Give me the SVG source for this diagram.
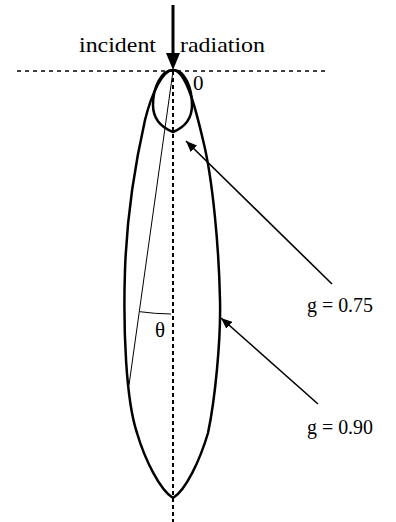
<svg xmlns="http://www.w3.org/2000/svg" width="396" height="522" viewBox="0 0 396 522">
<style>
text{font-family:"Liberation Serif","Times New Roman",serif;font-size:21px;fill:#000}
.loop{fill:none;stroke:#000;stroke-width:2.5}
.dot{fill:none;stroke:#000}
.ptr{stroke:#000;stroke-width:1.6;fill:none}
</style>
<defs>
<marker id="ah" viewBox="0 0 11 9" refX="11" refY="4.5" markerWidth="11" markerHeight="9" markerUnits="userSpaceOnUse" orient="auto">
<path d="M0,0 L11,4.5 L0,9 Z" fill="#000"/>
</marker>
</defs>
<rect width="396" height="522" fill="#fff"/>
<g id="axes">
<line class="dot" x1="17" y1="71" x2="327" y2="71" stroke-width="1.6" stroke-dasharray="4 4"/>
<line class="dot" x1="173" y1="71" x2="173" y2="522" stroke-width="2" stroke-dasharray="4 3"/>
</g>
<g id="loop-090">
<path class="loop" d="M173,70 C163,70 152,92 145,120 C136,160 127,210 125,270 C123,330 126,400 137,433 C145,460 160,490 173,498 C186,490 200,460 208,433 C215,400 221,340 220,300 C219,250 213,180 203,140 C196,110 186,70 173,70 Z"/>
</g>
<g id="loop-075">
<path class="loop" d="M173,70 C161,70 153,88 153,105 C153,120 163,128 173,132 C183,128 192,120 192,105 C192,88 185,70 173,70 Z"/>
</g>
<g id="angle">
<line x1="173" y1="71" x2="129" y2="385" stroke="#000" stroke-width="1"/>
<path d="M139.8,311.7 A243,243 0 0,0 171,314" fill="none" stroke="#000" stroke-width="1"/>
<text x="160" y="337" text-anchor="middle">θ</text>
</g>
<g id="incident">
<line x1="173" y1="5" x2="173" y2="55" stroke="#000" stroke-width="3"/>
<path d="M166,53 L180,53 L173,70 Z" fill="#000"/>
<text x="79" y="52" textLength="77" lengthAdjust="spacingAndGlyphs">incident</text>
<text x="180" y="52" textLength="85" lengthAdjust="spacingAndGlyphs">radiation</text>
<text x="193" y="90">0</text>
</g>
<g id="connectors">
<line class="ptr" x1="332" y1="284" x2="186" y2="141" marker-end="url(#ah)"/>
<line class="ptr" x1="318" y1="404" x2="221" y2="318" marker-end="url(#ah)"/>
</g>
<g id="label-075">
<text x="307" y="312" textLength="66" lengthAdjust="spacingAndGlyphs">g = 0.75</text>
</g>
<g id="label-090">
<text x="307" y="434" textLength="66" lengthAdjust="spacingAndGlyphs">g = 0.90</text>
</g>
</svg>
